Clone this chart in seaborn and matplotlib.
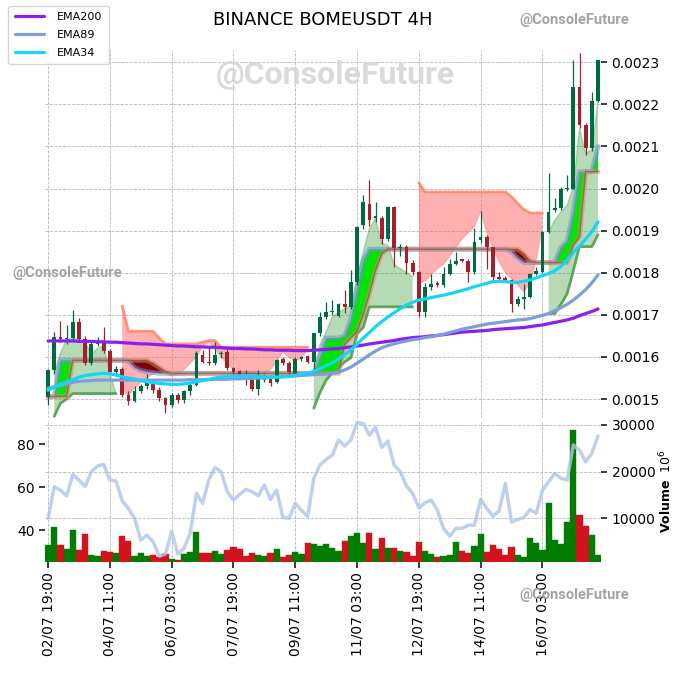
import numpy as np
import matplotlib
matplotlib.use('Agg')
import matplotlib.pyplot as plt
from matplotlib.ticker import FormatStrFormatter
import seaborn as sns

# Prices below are in units of 0.0001 USDT
open_p = [15.05, 15.69, 16.47, 16.42, 16.45, 16.84, 16.43, 15.86, 16.31, 16.36,
          16.13, 15.65, 15.72, 15.10, 14.96, 15.20, 15.31, 15.41, 15.22, 15.02,
          14.87, 15.10, 14.98, 15.18, 15.34, 16.04, 15.88, 15.85, 16.06, 16.12,
          15.73, 15.66, 15.57, 15.52, 15.25, 15.46, 15.55, 15.40, 15.94, 15.86,
          15.62, 15.96, 16.02, 15.89, 16.56, 16.94, 17.07, 16.98, 17.25, 17.19,
          17.78, 19.13, 19.64, 19.30, 19.29, 18.81, 19.55, 18.58, 18.62, 18.22,
          18.01, 17.07, 17.67, 17.75, 17.70, 17.98, 18.21, 18.30, 18.29, 18.02,
          18.77, 18.85, 18.61, 17.90, 17.88, 17.82, 17.26, 17.38, 17.42, 17.98,
          18.02, 18.97, 19.50, 19.53, 19.98, 20.00, 22.41, 21.51, 20.96, 22.09]
high_p = [15.72, 16.59, 16.86, 16.75, 17.11, 16.92, 16.50, 16.36, 16.47, 16.72,
          16.18, 15.78, 15.76, 15.20, 15.30, 15.36, 15.60, 15.45, 15.28, 15.06,
          15.15, 15.15, 15.22, 15.40, 16.15, 16.16, 16.27, 16.35, 16.14, 16.20,
          15.76, 15.69, 15.69, 15.55, 15.69, 15.60, 15.58, 15.96, 16.00, 15.90,
          16.00, 16.03, 16.05, 16.58, 17.07, 17.31, 17.35, 17.27, 17.59, 18.06,
          19.10, 19.84, 20.20, 19.68, 19.35, 19.58, 19.58, 18.68, 18.65, 18.30,
          18.05, 17.75, 17.98, 17.80, 18.14, 18.33, 18.50, 18.32, 18.32, 19.06,
          19.46, 18.90, 18.62, 18.01, 17.92, 17.86, 17.45, 17.74, 18.00, 18.14,
          18.98, 20.36, 19.77, 20.04, 20.32, 23.05, 23.21, 21.55, 22.30, 23.06]
low_p = [14.86, 15.60, 16.36, 16.30, 16.40, 16.38, 15.80, 15.82, 16.25, 16.10,
         15.60, 15.55, 15.05, 14.87, 14.92, 15.15, 15.25, 15.15, 14.95, 14.67,
         14.82, 14.90, 14.90, 15.10, 15.30, 15.85, 15.82, 15.80, 15.98, 15.70,
         15.60, 15.50, 15.34, 15.20, 15.10, 15.40, 15.30, 15.38, 15.82, 15.58,
         15.56, 15.90, 15.85, 15.62, 16.50, 16.90, 17.00, 16.95, 17.05, 17.15,
         17.70, 19.05, 19.10, 19.20, 18.69, 18.75, 18.14, 18.40, 17.98, 17.95,
         16.95, 16.95, 17.60, 17.65, 17.65, 17.95, 18.18, 18.26, 17.78, 17.98,
         18.70, 18.10, 17.82, 17.82, 17.80, 17.06, 17.20, 17.14, 17.40, 17.95,
         18.00, 18.95, 19.45, 19.50, 19.95, 19.98, 21.43, 20.80, 20.90, 22.05]
close_p = [15.69, 16.47, 16.42, 16.45, 16.84, 16.43, 15.86, 16.31, 16.35, 16.13,
           15.65, 15.72, 15.10, 14.96, 15.20, 15.31, 15.41, 15.22, 15.02, 14.87,
           15.10, 14.98, 15.18, 15.34, 16.10, 15.88, 15.85, 16.04, 16.10, 15.73,
           15.65, 15.57, 15.54, 15.23, 15.49, 15.50, 15.38, 15.92, 15.86, 15.64,
           15.96, 16.00, 15.89, 16.56, 16.95, 17.07, 17.09, 17.25, 17.19, 17.78,
           19.09, 19.68, 19.25, 19.34, 18.81, 19.56, 18.58, 18.60, 18.22, 18.01,
           17.07, 17.67, 17.73, 17.70, 17.98, 18.21, 18.29, 18.29, 18.02, 18.73,
           18.85, 18.61, 17.90, 17.86, 17.83, 17.26, 17.38, 17.42, 17.98, 18.04,
           18.97, 19.45, 19.53, 19.98, 20.00, 22.41, 21.51, 20.96, 22.09, 23.06]

ema200 = [16.38, 16.38, 16.38, 16.38, 16.38, 16.37, 16.37, 16.37, 16.36, 16.36,
          16.35, 16.35, 16.34, 16.33, 16.32, 16.31, 16.31, 16.30, 16.29, 16.28,
          16.27, 16.26, 16.26, 16.25, 16.24, 16.24, 16.23, 16.23, 16.22, 16.21,
          16.20, 16.20, 16.19, 16.19, 16.18, 16.17, 16.17, 16.16, 16.16, 16.16,
          16.15, 16.15, 16.15, 16.16, 16.17, 16.18, 16.19, 16.20, 16.22, 16.24,
          16.26, 16.28, 16.31, 16.33, 16.35, 16.37, 16.39, 16.42, 16.44, 16.46,
          16.47, 16.48, 16.50, 16.51, 16.53, 16.55, 16.57, 16.59, 16.60, 16.61,
          16.62, 16.63, 16.65, 16.66, 16.67, 16.68, 16.69, 16.70, 16.72, 16.74,
          16.76, 16.79, 16.82, 16.85, 16.88, 16.92, 16.98, 17.03, 17.08, 17.14]
ema89 = [15.26, 15.29, 15.32, 15.36, 15.40, 15.42, 15.43, 15.44, 15.45, 15.45,
         15.45, 15.45, 15.45, 15.45, 15.45, 15.45, 15.45, 15.45, 15.45, 15.45,
         15.45, 15.45, 15.45, 15.46, 15.46, 15.46, 15.46, 15.47, 15.47, 15.47,
         15.48, 15.48, 15.49, 15.49, 15.50, 15.50, 15.51, 15.52, 15.53, 15.54,
         15.55, 15.56, 15.57, 15.58, 15.59, 15.60, 15.61, 15.64, 15.69, 15.76,
         15.85, 15.95, 16.05, 16.14, 16.22, 16.27, 16.31, 16.35, 16.38, 16.41,
         16.43, 16.46, 16.48, 16.51, 16.54, 16.58, 16.62, 16.66, 16.69, 16.72,
         16.75, 16.78, 16.80, 16.82, 16.84, 16.86, 16.88, 16.89, 16.91, 16.95,
         16.99, 17.03, 17.10, 17.17, 17.25, 17.35, 17.47, 17.60, 17.76, 17.95]
ema34 = [15.21, 15.28, 15.35, 15.41, 15.46, 15.52, 15.56, 15.58, 15.60, 15.61,
         15.60, 15.57, 15.53, 15.50, 15.47, 15.44, 15.41, 15.39, 15.37, 15.36,
         15.35, 15.35, 15.36, 15.38, 15.41, 15.44, 15.47, 15.50, 15.52, 15.53,
         15.54, 15.55, 15.55, 15.54, 15.53, 15.53, 15.52, 15.52, 15.53, 15.54,
         15.56, 15.59, 15.61, 15.66, 15.72, 15.79, 15.86, 15.95, 16.05, 16.17,
         16.30, 16.45, 16.58, 16.72, 16.84, 16.95, 17.05, 17.15, 17.23, 17.30,
         17.35, 17.38, 17.41, 17.44, 17.47, 17.50, 17.54, 17.58, 17.62, 17.67,
         17.71, 17.75, 17.79, 17.80, 17.79, 17.77, 17.77, 17.80, 17.83, 17.88,
         17.93, 17.98, 18.05, 18.15, 18.30, 18.48, 18.64, 18.80, 18.98, 19.21]

# fast / slow baseline pair (band between them)
fast_line = [15.06, 15.06, 15.92, 15.92, 15.92, 15.92, 15.92, 15.92, 15.92, 15.92,
             15.92, 15.92, 15.92, 15.90, 15.75, 15.68, 15.65, 15.63, 15.61, 15.61,
             15.61, 15.61, 15.61, 15.61, 15.61, 15.61, 15.61, 15.61, 15.61, 15.61,
             15.61, 15.61, 15.61, 15.61, 15.61, 15.61, 15.61, 15.61, 15.61, 15.61,
             15.61, 15.61, 15.61, 15.61, 16.00, 16.45, 16.45, 16.45, 16.50, 16.90,
             17.60, 18.30, 18.56, 18.56, 18.56, 18.56, 18.56, 18.56, 18.56, 18.56,
             18.56, 18.56, 18.56, 18.56, 18.56, 18.56, 18.56, 18.56, 18.56, 18.56,
             18.56, 18.56, 18.56, 18.56, 18.56, 18.50, 18.35, 18.24, 18.24, 18.24,
             18.24, 18.24, 18.24, 18.60, 18.75, 19.45, 20.40, 20.40, 20.40, 21.00]
slow_line = [15.06, 15.06, 15.06, 15.06, 15.92, 15.92, 15.92, 15.92, 15.92, 15.92,
             15.92, 15.92, 15.92, 15.92, 15.92, 15.92, 15.92, 15.85, 15.75, 15.65,
             15.61, 15.61, 15.61, 15.61, 15.61, 15.61, 15.61, 15.61, 15.61, 15.61,
             15.61, 15.61, 15.61, 15.61, 15.61, 15.61, 15.61, 15.61, 15.61, 15.61,
             15.61, 15.61, 15.61, 15.61, 15.61, 15.61, 15.61, 15.61, 16.30, 16.45,
             16.60, 17.00, 17.50, 18.06, 18.45, 18.56, 18.56, 18.56, 18.56, 18.56,
             18.56, 18.56, 18.56, 18.56, 18.56, 18.56, 18.56, 18.56, 18.56, 18.56,
             18.56, 18.56, 18.56, 18.56, 18.56, 18.56, 18.56, 18.45, 18.28, 18.24,
             18.24, 18.24, 18.24, 18.24, 18.24, 18.65, 18.85, 20.40, 20.40, 20.40]

# cloud edges
span_a = [np.nan, 15.60, 16.10, 16.43, 16.43, 16.43, 16.35, 16.08, 16.20, 16.27,
          15.61, 15.13, 15.22, 15.10, 15.25, 15.40, 15.50, 15.60, 15.65, 15.60,
          15.55, 15.60, 15.70, 15.85, 16.00, 16.25, 16.35, 16.20, 16.00, 15.85,
          15.70, 15.65, 15.60, 15.58, 15.60, 15.62, 15.70, 15.90, 16.12, 15.98,
          15.92, 15.96, 16.20, 15.60, 16.30, 16.60, 16.95, 17.05, 17.15, 17.20,
          17.90, 18.50, 19.05, 19.29, 18.70, 18.65, 18.20, 18.10, 18.00, 17.90,
          17.75, 17.80, 17.95, 18.10, 18.20, 18.40, 18.60, 18.80, 18.95, 19.10,
          19.46, 18.95, 18.60, 18.25, 18.00, 17.85, 17.70, 17.55, 17.75, 18.30,
          19.10, 18.97, 19.25, 19.45, 19.60, 20.04, 21.43, 20.84, 20.92, 22.10]
span_b = [np.nan, 14.59, 14.90, 15.00, 15.13, 15.13, 15.13, 15.13, 15.13, 15.13,
          15.13, 15.13, 17.21, 16.61, 16.61, 16.61, 16.61, 16.61, 16.45, 16.31,
          16.31, 16.31, 16.31, 16.31, 16.31, 16.35, 16.39, 16.39, 16.23, 16.23,
          16.23, 16.23, 16.23, 16.23, 16.23, 16.23, 16.23, 16.23, 16.23, 16.23,
          16.23, 16.23, 16.23, 14.78, 15.15, 15.45, 15.62, 15.75, 15.88, 15.98,
          16.55, 16.70, 17.19, 17.19, 17.19, 17.19, 17.19, 17.19, 17.19, 17.19,
          20.14, 19.92, 19.92, 19.92, 19.92, 19.92, 19.92, 19.92, 19.92, 19.92,
          19.92, 19.92, 19.92, 19.92, 19.92, 19.80, 19.65, 19.50, 19.42, 19.42,
          19.42, 17.03, 17.03, 17.25, 17.50, 18.05, 18.62, 18.62, 18.62, 18.90]

# volume in millions
volume = [4260, 8120, 4260, 3400, 7480, 3190, 6620, 2120, 2000, 2980,
          2770, 2550, 6190, 5120, 1910, 2550, 1910, 2120, 1690, 2340,
          1270, 1050, 2340, 2770, 7050, 2550, 2550, 2980, 2340, 3190,
          3830, 3400, 1910, 2550, 2120, 1910, 2550, 3400, 1690, 2120,
          2770, 2340, 4690, 4480, 4050, 4480, 3690, 2980, 5120, 6190,
          6830, 4690, 6830, 3400, 5760, 3620, 3620, 2980, 2770, 1910,
          4900, 2980, 2340, 1690, 1910, 2120, 4900, 2980, 2550, 4050,
          6620, 2770, 4260, 3400, 2120, 3830, 2120, 1690, 5760, 4690,
          3190, 13260, 5330, 4480, 9190, 28900, 10690, 8330, 6410, 2120]
rsi = [45.6, 60.3, 58.7, 56.0, 66.0, 63.4, 60.3, 67.3, 69.9, 70.7,
       63.4, 62.9, 53.8, 50.2, 45.6, 35.5, 37.8, 34.7, 28.0, 29.0,
       39.4, 29.0, 31.6, 38.6, 57.2, 52.6, 63.4, 69.1, 67.3, 58.0,
       54.1, 56.7, 59.1, 58.0, 56.1, 61.1, 54.4, 58.7, 46.0, 45.6,
       52.6, 49.4, 46.3, 64.2, 70.4, 73.0, 75.0, 82.0, 79.2, 82.0,
       90.0, 89.7, 84.3, 87.9, 78.6, 81.5, 70.4, 67.3, 60.6, 57.2,
       50.5, 52.8, 54.1, 49.4, 40.9, 37.3, 40.9, 40.9, 42.4, 42.4,
       54.4, 50.2, 46.6, 49.1, 61.9, 43.9, 45.0, 46.0, 49.7, 47.9,
       58.7, 62.6, 66.5, 64.2, 63.4, 79.7, 77.3, 71.9, 75.8, 83.9]

tick_labels = ['02/07 19:00', '04/07 11:00', '06/07 03:00', '07/07 19:00', '09/07 11:00',
               '11/07 03:00', '12/07 19:00', '14/07 11:00', '16/07 03:00']
price_ticks = [15, 16, 17, 18, 19, 20, 21, 22, 23]

UNIT = 1e-4
CANDLE_UP, CANDLE_DN = '#006b3f', '#a3202c'
VOL_UP, VOL_DN = '#007d00', '#d2121d'

sns.set_theme(style='white')
plt.rcParams['font.family'] = ['DejaVu Sans']
plt.rcParams['text.color'] = 'black'
plt.rcParams['xtick.labelcolor'] = 'black'
plt.rcParams['ytick.labelcolor'] = 'black'
plt.rcParams['axes.labelcolor'] = 'black'

x = np.arange(len(close_p))
o = np.array(open_p) * UNIT
h = np.array(high_p) * UNIT
l = np.array(low_p) * UNIT
c = np.array(close_p) * UNIT
a = np.array(span_a) * UNIT
b = np.array(span_b) * UNIT
fast = np.array(fast_line) * UNIT
slow = np.array(slow_line) * UNIT
up = c >= o

fig = plt.figure(figsize=(6.9, 6.9), dpi=100)
ax = fig.add_axes([0.0652, 0.3942, 0.806, 0.5333])
axv = fig.add_axes([0.0652, 0.1855, 0.806, 0.2058], sharex=ax)

# cloud
with np.errstate(invalid='ignore'):
    bull = a >= b
    bear = a < b
ax.fill_between(x, a, b, where=bull, color='#3f9f3f', alpha=0.38, lw=0, zorder=1)
ax.fill_between(x, a, b, where=bear, color='#ff6464', alpha=0.5, lw=0, zorder=1)
ax.plot(x, np.where(bull, b, np.nan), color='#3c963c', lw=2, alpha=0.8, zorder=2)
ax.plot(x, np.where(bear, b, np.nan), color='#ff8060', lw=2, alpha=0.8, zorder=2)
ax.plot(x, np.where(bull, a, np.nan), color='#3f9f3f', lw=1, alpha=0.35, zorder=2)
ax.plot(x, np.where(bear, a, np.nan), color='#ff6464', lw=1, alpha=0.35, zorder=2)

# baseline band
ax.fill_between(x, fast, slow, where=fast >= slow, interpolate=True,
                color='#00e400', lw=0, zorder=3)
ax.fill_between(x, fast, slow, where=fast < slow, interpolate=True,
                color='#7c0000', lw=0, zorder=3)
ax.plot(x, fast, color='#6f8fd8', lw=3.5, alpha=0.55, zorder=4)
ax.plot(x, slow, color='#ee7a66', lw=3.5, alpha=0.55, zorder=4)
ax.plot(x, slow, color='#3f6a3a', lw=1.0, alpha=0.6, zorder=4)

# candles
col = np.where(up, CANDLE_UP, CANDLE_DN)
ax.vlines(x, l, h, colors=col, lw=0.9, zorder=5)
body = np.maximum(np.abs(c - o), 0.03 * UNIT)
ax.bar(x, body, bottom=np.minimum(o, c), width=0.6, color=col, lw=0, zorder=6)

# EMAs
sns.lineplot(x=x, y=np.array(ema200) * UNIT, ax=ax, color='#8a1ff2', lw=2.3, label='EMA200', zorder=7)
sns.lineplot(x=x, y=np.array(ema89) * UNIT, ax=ax, color='#7d9fd9', lw=2.3, label='EMA89', zorder=7)
sns.lineplot(x=x, y=np.array(ema34) * UNIT, ax=ax, color='#14d4f8', lw=2.3, label='EMA34', zorder=7)
handles, labels = ax.get_legend_handles_labels()
ax.get_legend().remove()
fig.legend(handles, labels, loc='upper left', bbox_to_anchor=(0.004, 1.0),
           fontsize=8, frameon=True, handlelength=2.6, borderpad=0.6,
           labelspacing=0.7, handletextpad=1.2)

ax.set_xlim(-0.5, len(x) - 0.5)
ax.set_ylim(14.55 * UNIT, 23.29 * UNIT)
ax.yaxis.tick_right()
ax.set_yticks([t * UNIT for t in price_ticks])
ax.yaxis.set_major_formatter(FormatStrFormatter('%.4f'))
ax.tick_params(axis='y', right=True, length=4, labelsize=10, color='#222222')
ax.tick_params(axis='x', bottom=False, labelbottom=False)
ax.grid(True, ls='--', lw=0.6, color='#b8b8b8')
ax.set_axisbelow(True)
ax.set_xlabel('')
for s in ax.spines.values():
    s.set_visible(False)

# volume panel
vcol = np.where(up, VOL_UP, VOL_DN)
axv.bar(x, volume, width=1.0, color=vcol, edgecolor=vcol, lw=0.3, zorder=2)
axr = axv.twinx()
axv.yaxis.tick_right()
axv.yaxis.set_label_position('right')
axv.set_ylim(620, 31050)
axv.set_yticks([10000, 20000, 30000])
axv.set_ylabel(r'$\mathbf{Volume}$  $10^{6}$', fontsize=9, labelpad=2)
axv.tick_params(axis='y', right=True, left=False, length=4, labelsize=10, color='#222222')
axv.set_xticks(range(0, len(x), 10))
axv.set_xticklabels(tick_labels, rotation=90)
axv.tick_params(axis='x', bottom=True, length=4, labelsize=10, color='#222222')
axv.grid(True, ls='--', lw=0.6, color='#b8b8b8')
axv.set_axisbelow(True)

sns.lineplot(x=x, y=rsi, ax=axr, color='#aec5ea', lw=2.5, alpha=0.8, zorder=3)
axr.yaxis.tick_left()
axr.set_ylim(25.3, 91.3)
axr.set_yticks([40, 60, 80])
axr.tick_params(axis='y', left=True, right=False, length=4, labelsize=10, color='#222222')
axr.set_ylabel('')
axr.grid(False)
for axis in (axv, axr):
    for s in axis.spines.values():
        s.set_visible(False)
axv.set_xlim(-0.5, len(x) - 0.5)

fig.text(0.468, 0.971, 'BINANCE BOMEUSDT 4H', ha='center', va='center', fontsize=13, color='black')

wm = dict(family=['Roboto', 'DejaVu Sans'], weight='bold', ha='center', va='center')
fig.text(0.832, 0.971, '@ConsoleFuture', fontsize=10.5, color='#a6a2a2', **wm)
fig.text(0.098, 0.6043, '@ConsoleFuture', fontsize=10.5, color='#a6a2a2', **wm)
fig.text(0.832, 0.1377, '@ConsoleFuture', fontsize=10.5, color='#a6a2a2', **wm)
fig.text(0.4855, 0.8913, '@ConsoleFuture', fontsize=23, color='#d6d6d6', alpha=0.9, zorder=0, **wm)

fig.savefig('out.png', dpi=100)
